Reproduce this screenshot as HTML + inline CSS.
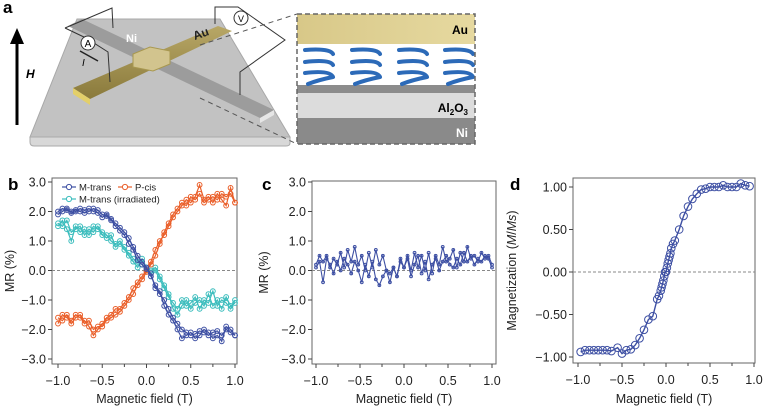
<!DOCTYPE html>
<html><head><meta charset="utf-8">
<style>
html,body{margin:0;padding:0;background:#fff;}
svg{display:block;font-family:"Liberation Sans",Arial,sans-serif;}
</style></head>
<body>
<svg id="fig" width="764" height="408" viewBox="0 0 764 408" xmlns="http://www.w3.org/2000/svg">
<defs>
 <linearGradient id="auG" x1="0" y1="0" x2="1" y2="0"><stop offset="0" stop-color="#d8c888"/><stop offset="1" stop-color="#e6d9a0"/></linearGradient>
 <linearGradient id="barG" x1="0" y1="0" x2="0" y2="1"><stop offset="0" stop-color="#b8a766"/><stop offset="1" stop-color="#8a7a3c"/></linearGradient>
</defs>
<!-- Panel a -->
<g>
 <text x="3" y="13" font-size="17" font-weight="bold">a</text>
 <line x1="17" y1="125" x2="17" y2="40" stroke="#000" stroke-width="3"/>
 <polygon points="17,28 10,44 24,44" fill="#000"/>
 <text x="26" y="78" font-size="12" font-weight="bold" font-style="italic">H</text>
 <polygon points="77,19 220,19 290,137 30,137" fill="#c2c2c2" stroke="#a8a8a8"/>
 <path d="M30,137 L290,137 L290,143 Q290,146 286,146 L34,146 Q30,146 30,142 Z" fill="#d8d8d8" stroke="#aaa"/>
 <polygon points="68,26 82,19 274,110 260,118" fill="#9c9c9c"/>
 <polygon points="260,118 274,110 274,115 260,123" fill="#e6e6e6"/>
 <polygon points="73,88 218,26 232,31 90,99" fill="url(#barG)"/>
 <polygon points="73,88 90,99 90,105 73,94" fill="#e3cf6a"/>
 <polygon points="133,54 150,47 170,51 170,64 153,71 133,67" fill="#d2c48e" stroke="#a89850"/>
 <text x="126" y="42" font-size="11" font-weight="bold" fill="#fff">Ni</text>
 <text x="193" y="38" font-size="12" font-weight="bold" fill="#222" transform="rotate(-20 200 34)">Au</text>
 <polyline points="65,28 112,8 113,28" fill="none" stroke="#333"/>
 <polyline points="65,28 86,38 108,52 110,82" fill="none" stroke="#333"/>
 <circle cx="88" cy="43" r="7" fill="#fff" stroke="#333"/>
 <text x="88" y="47" font-size="10" text-anchor="middle">A</text>
 <line x1="98" y1="61" x2="80" y2="51" stroke="#222" stroke-width="1.5"/>
 <text x="82" y="66" font-size="10" font-style="italic">I</text>
 <polyline points="215,24 215,7 238,7 285,40 240,72 240,95" fill="none" stroke="#333"/>
 <circle cx="241" cy="18" r="7" fill="#fff" stroke="#333"/>
 <text x="241" y="22" font-size="9" text-anchor="middle">V</text>
 <line x1="200" y1="45" x2="297" y2="14" stroke="#555" stroke-dasharray="5,4"/>
 <line x1="200" y1="98" x2="297" y2="144" stroke="#555" stroke-dasharray="5,4"/>
 <g>
  <rect x="297" y="14" width="178" height="30" fill="url(#auG)"/>
  <rect x="297" y="44" width="178" height="41" fill="#fff"/>
  <rect x="297" y="85" width="178" height="8" fill="#8c8c8c"/>
  <rect x="297" y="93" width="178" height="25" fill="#dcdcdc"/>
  <rect x="297" y="118" width="178" height="26" fill="#8a8a8a"/>
  <g fill="none" stroke="#2c6ab8" stroke-width="4" stroke-linecap="round">
   <path d="M305,50 Q330,48 333,54 M305,62 Q330,59 333,65 M305,73 Q330,70 333,77 M308,84 Q318,80 333,77"/>
   <path d="M352,50 Q377,48 380,54 M352,62 Q377,59 380,65 M352,73 Q377,70 380,77 M355,84 Q365,80 380,77"/>
   <path d="M399,50 Q424,48 427,54 M399,62 Q424,59 427,65 M399,73 Q424,70 427,77 M402,84 Q412,80 427,77"/>
   <path d="M445,50 Q470,48 473,54 M445,62 Q470,59 473,65 M445,73 Q470,70 473,77 M448,84 Q458,80 473,77"/>
  </g>
  <rect x="297" y="14" width="178" height="130" fill="none" stroke="#666" stroke-width="1.5" stroke-dasharray="5,3"/>
  <text x="468" y="34" font-size="12" font-weight="bold" text-anchor="end">Au</text>
  <text x="468" y="112" font-size="12" font-weight="bold" text-anchor="end">Al<tspan font-size="8" dy="3">2</tspan><tspan dy="-3">O</tspan><tspan font-size="8" dy="3">3</tspan></text>
  <text x="468" y="137" font-size="12" font-weight="bold" fill="#fff" text-anchor="end">Ni</text>
 </g>
</g>
<g id="charts"></g>
</svg>
<script>
// ---------- data ----------
const bX = [-1.0,-0.95,-0.9,-0.85,-0.8,-0.75,-0.7,-0.65,-0.6,-0.55,-0.5,-0.45,-0.4,-0.35,-0.3,-0.25,-0.2,-0.15,-0.1,-0.05,0.0,0.05,0.1,0.15,0.2,0.25,0.3,0.35,0.4,0.45,0.5,0.55,0.6,0.65,0.7,0.75,0.8,0.85,0.9,0.95,1.0];
const mTransA = [2.0,2.1,2.05,2.0,2.05,2.0,1.95,2.0,2.1,2.05,1.9,1.85,1.7,1.6,1.45,1.3,1.1,0.8,0.5,0.3,0.1,-0.2,-0.5,-0.8,-1.0,-1.3,-1.6,-1.8,-2.0,-2.1,-2.2,-2.15,-2.05,-2.1,-2.2,-2.1,-2.05,-2.2,-2.0,-2.1,-2.2];
const mTransB = [1.9,2.0,2.1,1.95,2.0,2.1,2.05,2.1,2.0,1.95,1.8,1.9,1.75,1.5,1.35,1.2,0.9,0.7,0.35,0.2,0.05,-0.1,-0.6,-0.7,-1.2,-1.5,-1.7,-2.0,-2.3,-2.2,-2.1,-2.3,-2.2,-2.0,-2.1,-2.3,-2.2,-2.4,-1.9,-2.0,-2.2];
const mIrrA = [1.5,1.7,1.4,1.0,1.5,1.3,1.4,1.2,1.5,1.4,1.3,1.2,1.0,0.9,1.0,0.7,0.6,0.4,0.3,0.2,0.0,-0.1,0.0,-0.3,-0.6,-0.9,-1.1,-1.3,-1.0,-1.2,-1.1,-0.9,-1.3,-1.0,-1.1,-0.7,-1.2,-1.0,-1.1,-1.3,-1.0];
const mIrrB = [1.6,1.5,1.7,1.3,1.4,1.5,1.2,1.4,1.3,1.5,1.2,1.1,1.2,0.8,0.9,0.8,0.5,0.3,0.1,0.4,0.1,0.0,0.1,-0.2,-0.5,-0.8,-1.3,-1.5,-1.2,-1.0,-1.3,-1.1,-1.0,-1.2,-0.8,-1.2,-1.0,-1.3,-0.9,-1.2,-1.1];
const pCisA = [-1.8,-1.5,-1.6,-1.7,-1.5,-1.6,-1.7,-1.9,-2.2,-2.0,-1.8,-1.7,-1.6,-1.5,-1.4,-1.2,-1.0,-0.8,-0.5,-0.3,-0.05,0.3,0.7,1.0,1.2,1.5,1.8,2.0,2.2,2.4,2.3,2.5,2.9,2.4,2.5,2.3,2.6,2.4,2.2,2.8,2.3];
const pCisB = [-1.6,-1.7,-1.5,-1.8,-1.6,-1.5,-1.8,-1.7,-2.0,-1.9,-1.9,-1.6,-1.5,-1.3,-1.3,-1.1,-0.9,-0.6,-0.4,-0.2,0.0,0.2,0.5,0.9,1.3,1.6,1.9,2.1,2.3,2.2,2.5,2.4,2.6,2.3,2.4,2.5,2.4,2.6,2.5,2.6,2.3];
const cX = [-1.0,-0.96,-0.92,-0.88,-0.84,-0.8,-0.76,-0.72,-0.68,-0.64,-0.6,-0.56,-0.52,-0.48,-0.44,-0.4,-0.36,-0.32,-0.28,-0.24,-0.2,-0.16,-0.12,-0.08,-0.04,0.0,0.04,0.08,0.12,0.16,0.2,0.24,0.28,0.32,0.36,0.4,0.44,0.48,0.52,0.56,0.6,0.64,0.68,0.72,0.76,0.8,0.84,0.88,0.92,0.96,1.0];
const cA = [0.2,0.5,0.3,0.5,0.1,0.4,0.2,0.6,0.1,0.7,0.3,0.8,0.2,0.5,0.0,0.6,0.1,0.7,0.2,0.5,0.0,-0.1,0.1,-0.2,0.4,0.1,0.5,0.0,0.6,0.1,0.5,0.0,0.6,-0.1,0.5,0.2,0.8,0.3,0.4,0.7,0.1,0.6,0.3,0.8,0.4,0.5,0.3,0.6,0.4,0.5,0.2];
const cB = [0.1,0.3,-0.4,0.4,0.2,-0.1,0.3,0.0,0.4,0.2,-0.1,0.3,0.0,-0.4,0.2,-0.2,0.3,-0.3,-0.5,-0.2,0.0,-0.4,0.1,-0.2,0.3,0.1,0.4,-0.2,0.2,0.5,-0.1,0.3,-0.3,0.2,0.4,0.0,0.3,0.5,0.2,0.1,0.4,0.2,0.6,0.3,0.5,0.2,0.4,0.3,0.5,0.4,0.1];
const dX = [-0.97,-0.92,-0.87,-0.82,-0.77,-0.72,-0.67,-0.62,-0.55,-0.5,-0.45,-0.4,-0.35,-0.3,-0.25,-0.2,-0.15,-0.1,-0.08,-0.06,-0.05,-0.04,-0.03,-0.02,-0.01,0.0,0.01,0.02,0.03,0.04,0.05,0.06,0.08,0.1,0.15,0.2,0.25,0.3,0.35,0.4,0.45,0.5,0.55,0.6,0.65,0.7,0.75,0.8,0.85,0.9,0.95];
const dY = [-0.94,-0.92,-0.92,-0.92,-0.92,-0.92,-0.92,-0.93,-0.89,-0.96,-0.92,-0.91,-0.86,-0.78,-0.68,-0.56,-0.52,-0.32,-0.28,-0.22,-0.18,-0.14,-0.1,-0.05,0.0,0.0,0.05,0.1,0.14,0.18,0.22,0.28,0.33,0.37,0.5,0.66,0.77,0.86,0.92,0.97,0.98,1.0,1.0,1.0,1.02,1.0,1.0,1.0,1.04,1.02,1.01];
const mrTicks = [3,2,1,0,-1,-2,-3];
const mrTickLabels = ["3.0","2.0","1.0","0.0","\u22121.0","\u22122.0","\u22123.0"];
const magTicks = [1,0.5,0,-0.5,-1];
const magTickLabels = ["1.00","0.50","0.00","\u22120.50","\u22121.00"];
const fieldTicks = [-1,-0.5,0,0.5,1];
const fieldTickLabels = ["\u22121.0","\u22120.5","0.0","0.5","1.0"];
const fieldMinor = [-0.75,-0.25,0.25,0.75];

// ---------- drawing ----------
const NS = "http://www.w3.org/2000/svg";
const root = document.getElementById("charts");
function mk(tag, attrs, parent){const e=document.createElementNS(NS,tag);for(const k in attrs)e.setAttribute(k,attrs[k]);(parent||root).appendChild(e);return e;}
function txt(s, attrs, parent){const e=mk("text",attrs,parent);e.textContent=s;return e;}

function panel(cfg){
  const g = mk("g",{});
  
  
  const X = v => cfg.x0 + (v - cfg.xmin)/(cfg.xmax-cfg.xmin)*(cfg.x1-cfg.x0);
  const Y = v => cfg.y0 + (cfg.ymax - v)/(cfg.ymax-cfg.ymin)*(cfg.y1-cfg.y0);
  const fr = mk("rect",{x:cfg.bl,y:cfg.bt,width:cfg.br-cfg.bl,height:cfg.bb-cfg.bt,fill:"none",stroke:"#666","stroke-width":1},g);
  
  
  const zl = mk("line",{x1:cfg.bl,x2:cfg.br,y1:Y(0),y2:Y(0),stroke:"#888","stroke-dasharray":"3,2","stroke-width":1},g);
  
  
  cfg.yt.forEach((v,i)=>{
    mk("line",{x1:cfg.bl-4,x2:cfg.bl,y1:Y(v),y2:Y(v),stroke:"#444"},g);
    const t = txt(cfg.ytl[i],{x:cfg.bl-6,y:Y(v)+4.5,"font-size":12.5,"text-anchor":"end",fill:"#222"},g);
    
    
  });
  fieldTicks.forEach((v,i)=>{
    mk("line",{x1:X(v),x2:X(v),y1:cfg.bb,y2:cfg.bb+4,stroke:"#444"},g);
    const t = txt(fieldTickLabels[i],{x:X(v),y:cfg.bb+21,"font-size":12.5,"text-anchor":"middle",fill:"#222"},g);
    
    
  });
  fieldMinor.forEach(v=>{ mk("line",{x1:X(v),x2:X(v),y1:cfg.bb,y2:cfg.bb+3,stroke:"#444"},g); });
  const xt = txt("Magnetic field (T)",{x:(cfg.bl+cfg.br)/2,y:403,"font-size":12.5,"text-anchor":"middle",fill:"#222"},g);
  
  
  const yt = txt("",{x:0,y:0,"font-size":12.5,"text-anchor":"middle",fill:"#222",transform:`translate(${cfg.ytx},${(cfg.bt+cfg.bb)/2}) rotate(-90)`},g);
  yt.innerHTML = cfg.ytitle;
  
  
  const pl = txt(cfg.label,{x:cfg.lx,y:190,"font-size":17,"font-weight":"bold",fill:"#000"},g);
  
  
  return {g,X,Y};
}
function series(p, xs, ys, color, r, name, lw){
  const s = mk("g",{},p.g);
  
  
  mk("polyline",{points:xs.map((x,i)=>p.X(x)+","+p.Y(ys[i])).join(" "),fill:"none",stroke:color,"stroke-width":lw||1.2},s);
  xs.forEach((x,i)=>{
    const c = mk("circle",{cx:p.X(x),cy:p.Y(ys[i]),r:r,fill:"none",stroke:color,"stroke-width":1},s);
    
    
  });
}
const BLUE="#3d4fa3", ORANGE="#ea5f2a", CYAN="#3cbdbd";
const pb = panel({name:"panel-b-chart",label:"b",lx:8,xmin:-1,xmax:1,x0:58,x1:235,ymin:-3,ymax:3,y0:182,y1:359,bl:52,br:237,bt:178,bb:364,yt:mrTicks,ytl:mrTickLabels,ytitle:"MR (%)",ytx:14});
series(pb,bX,mIrrA,CYAN,2.4,"m-trans-irradiated-sweep1");
series(pb,bX,mIrrB,CYAN,2.4,"m-trans-irradiated-sweep2");
series(pb,bX,pCisA,ORANGE,2.4,"p-cis-sweep1");
series(pb,bX,pCisB,ORANGE,2.4,"p-cis-sweep2");
series(pb,bX,mTransA,BLUE,2.4,"m-trans-sweep1");
series(pb,bX,mTransB,BLUE,2.4,"m-trans-sweep2");
const leg = mk("g",{},pb.g);


[[BLUE,"M-trans",62,187],[ORANGE,"P-cis",118,187],[CYAN,"M-trans (irradiated)",62,199]].forEach(e=>{
  const le = mk("g",{},leg);
  
  
  mk("line",{x1:e[2],x2:e[2]+14,y1:e[3],y2:e[3],stroke:e[0],"stroke-width":1.2},le);
  mk("circle",{cx:e[2]+7,cy:e[3],r:2.6,fill:"#fff",stroke:e[0]},le);
  txt(e[1],{x:e[2]+17,y:e[3]+3.5,"font-size":9.5,fill:"#222"},le);
});
const pc = panel({name:"panel-c-chart",label:"c",lx:262,xmin:-1,xmax:1,x0:316,x1:492,ymin:-3,ymax:3,y0:182,y1:359,bl:312,br:496,bt:181,bb:364,yt:mrTicks,ytl:mrTickLabels,ytitle:"MR (%)",ytx:268});
series(pc,cX,cA,BLUE,1.4,"control-sweep1",1.1);
series(pc,cX,cB,BLUE,1.4,"control-sweep2",1.1);
const pd = panel({name:"panel-d-chart",label:"d",lx:510,xmin:-1,xmax:1,x0:578,x1:754,ymin:-1,ymax:1,y0:187,y1:357,bl:573,br:755,bt:178,bb:363,yt:magTicks,ytl:magTickLabels,ytitle:'Magnetization (<tspan font-style="italic">M</tspan>/<tspan font-style="italic">Ms</tspan>)',ytx:516});
series(pd,dX,dY,BLUE,3.8,"magnetization-curve",1.4);
</script>
</body></html>
